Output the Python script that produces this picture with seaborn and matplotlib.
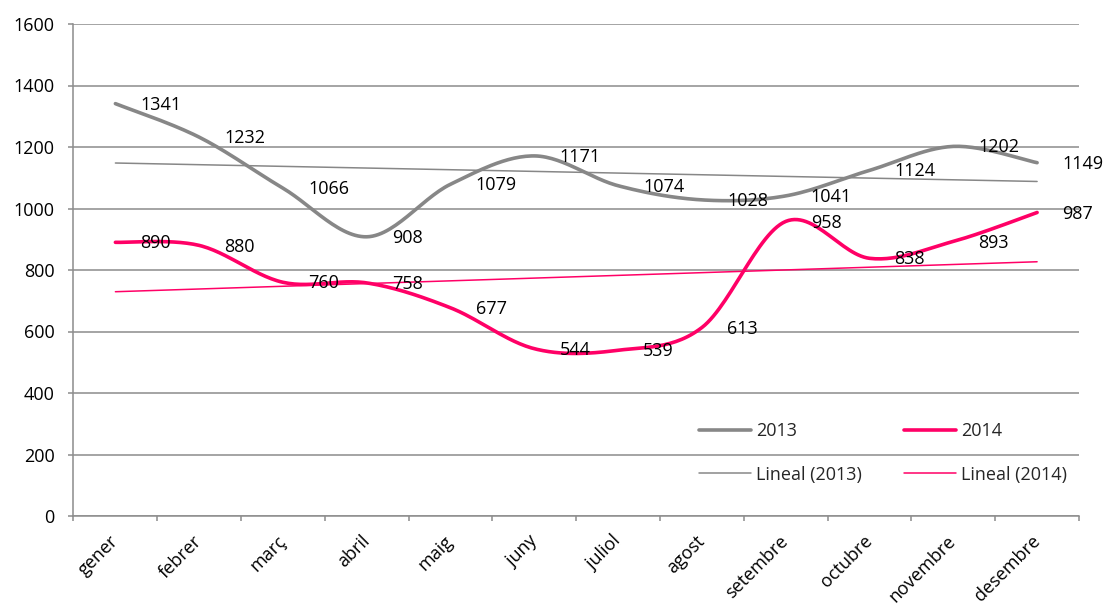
import numpy as np
import pandas as pd
import matplotlib
matplotlib.use("Agg")
import matplotlib.pyplot as plt
from matplotlib.lines import Line2D
import seaborn as sns

months = ["gener", "febrer", "març", "abril", "maig", "juny", "juliol",
          "agost", "setembre", "octubre", "novembre", "desembre"]
v2013 = [1341, 1232, 1066, 908, 1079, 1171, 1074, 1028, 1041, 1124, 1202, 1149]
v2014 = [890, 880, 760, 758, 677, 544, 539, 613, 958, 838, 893, 987]
yticks = [0, 200, 400, 600, 800, 1000, 1200, 1400, 1600]

GRAY = "#878787"
PINK = "#FF0066"
GRID = "#8C8C8C"

sns.set_theme(style="white")
plt.rcParams["font.family"] = ["Open Sans", "DejaVu Sans"]


def smooth(xs, ys, n=30):
    """Excel-style smoothed line (Bezier through every point)."""
    P = np.column_stack([xs, ys]).astype(float)
    m = len(P)
    out = []
    for i in range(m - 1):
        p0 = P[max(i - 1, 0)]
        p1 = P[i]
        p2 = P[i + 1]
        p3 = P[min(i + 2, m - 1)]
        c1 = p1 + (p2 - p0) / 6.0
        c2 = p2 - (p3 - p1) / 6.0
        t = np.linspace(0, 1, n)[:, None]
        seg = ((1 - t) ** 3) * p1 + 3 * ((1 - t) ** 2) * t * c1 + 3 * (1 - t) * t ** 2 * c2 + t ** 3 * p2
        out.append(seg if i == 0 else seg[1:])
    out = np.vstack(out)
    return out[:, 0], out[:, 1]


W, H = 1106, 611
fig = plt.figure(figsize=(W / 100, H / 100), dpi=100)
left, right, top, bottom = 73.5, 1079, 24, 516
ax = fig.add_axes([left / W, (H - bottom) / H, (right - left) / W, (bottom - top) / H])

xs = np.arange(len(months))
df = pd.DataFrame({"x": xs, "2013": v2013, "2014": v2014})

# trend lines (linear regression)
sns.regplot(data=df, x="x", y="2013", scatter=False, ci=None, truncate=True,
            color=GRAY, line_kws=dict(lw=1.1, zorder=3), ax=ax)
sns.regplot(data=df, x="x", y="2014", scatter=False, ci=None, truncate=True,
            color=PINK, line_kws=dict(lw=1.1, zorder=3), ax=ax)

# smoothed series
sx, sy = smooth(xs, v2013)
sns.lineplot(x=sx, y=sy, sort=False, estimator=None, color=GRAY, lw=2.6, ax=ax, zorder=4)
sx, sy = smooth(xs, v2014)
sns.lineplot(x=sx, y=sy, sort=False, estimator=None, color=PINK, lw=2.6, ax=ax, zorder=4)

# data labels
for vals in (v2013, v2014):
    for i, v in enumerate(vals):
        ax.annotate(str(v), (i, v), xytext=(18, -0.8), textcoords="offset points",
                    ha="left", va="center", fontsize=13, color="black", zorder=5)

ax.set_xlim(-0.5, len(months) - 0.5)
ax.set_ylim(0, 1600)
ax.set_yticks(yticks)
ax.set_yticklabels([str(t) for t in yticks])
ax.set_xticks(xs)
ax.set_xticklabels(months, rotation=45, ha="right", va="center", rotation_mode="anchor")
ax.set_xticks(np.arange(-0.5, len(months)), minor=True)
ax.set_xlabel("")
ax.set_ylabel("")

ax.yaxis.grid(True, color=GRID, lw=1.1, zorder=0)
ax.xaxis.grid(False)
ax.set_axisbelow(True)
for s in ("top", "right"):
    ax.spines[s].set_visible(False)
for s in ("left", "bottom"):
    ax.spines[s].set_color(GRID)
    ax.spines[s].set_linewidth(1.1)

ax.tick_params(axis="y", which="major", direction="out", length=3.6, width=1.1,
               color=GRID, pad=10, labelsize=13, labelcolor="black", left=True)
ax.tick_params(axis="x", which="major", length=0, pad=16, labelsize=13, labelcolor="black")
ax.tick_params(axis="x", which="minor", direction="out", length=3.6, width=1.1,
               color=GRID, bottom=True)

handles = [
    Line2D([], [], color=GRAY, lw=2.6),
    Line2D([], [], color=GRAY, lw=1.1),
    Line2D([], [], color=PINK, lw=2.6),
    Line2D([], [], color=PINK, lw=1.1),
]
labels = ["2013", "Lineal (2013)", "2014", "Lineal (2014)"]
ax.legend(handles, labels, ncol=2, frameon=False, fontsize=13,
          loc="center", bbox_to_anchor=(883 / W, 1 - 453 / H),
          bbox_transform=fig.transFigure, handlelength=2.9, handletextpad=0.3,
          columnspacing=2.3, labelspacing=1.4, borderpad=0)

fig.savefig("out.png", dpi=100)
